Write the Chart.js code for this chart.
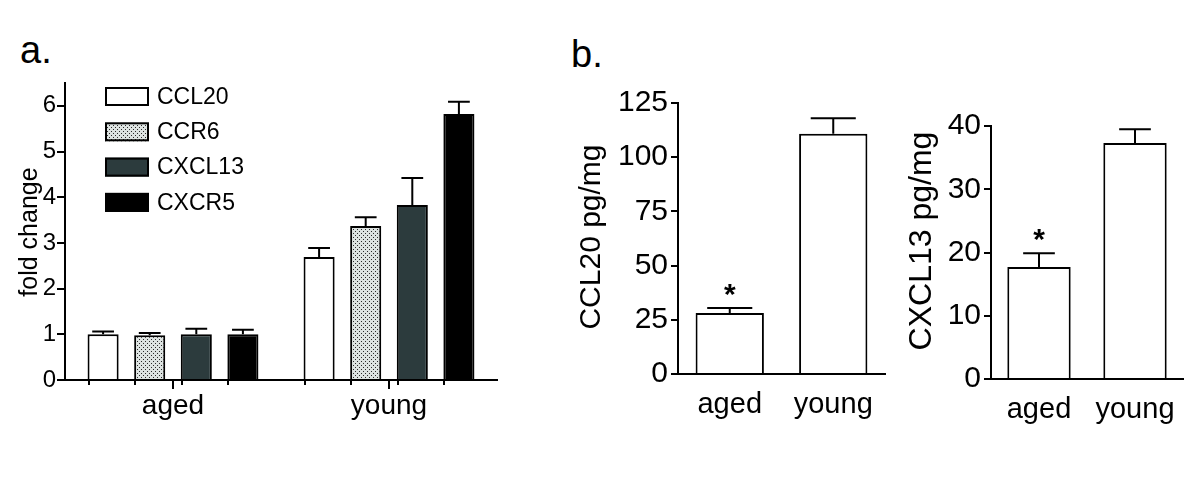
<!DOCTYPE html>
<html>
<head>
<meta charset="utf-8">
<script src="https://cdn.jsdelivr.net/npm/chart.js@4/dist/chart.umd.min.js"></script>
<style>
  html, body { margin: 0; padding: 0; background: #fff; }
  body { width: 1200px; height: 477px; position: relative; overflow: hidden; font-family: "Liberation Sans", Arial, sans-serif; }
  .box { position: absolute; }
  .panel-letter { position: absolute; font-size: 38px; line-height: 38px; color: #000; }
</style>
</head>
<body>
<div class="panel-letter" style="left:20px; top:31px;">a.</div>
<div class="panel-letter" style="left:571px; top:35px;">b.</div>
<div class="box" style="left:0; top:60px; width:520px; height:370px;"><canvas id="chartA"></canvas></div>
<div class="box" style="left:560px; top:60px; width:330px; height:370px;"><canvas id="chartB1"></canvas></div>
<div class="box" style="left:890px; top:60px; width:310px; height:370px;"><canvas id="chartB2"></canvas></div>
<script>
// dados
const groups = ['aged', 'young'];
const genes = ['CCL20', 'CCR6', 'CXCL13', 'CXCR5'];
const ccl20Fold = [1.0, 2.69];
const ccl20FoldErr = [0.06, 0.20];
const ccr6Fold = [0.98, 3.37];
const ccr6FoldErr = [0.05, 0.19];
const cxcl13Fold = [1.0, 3.83];
const cxcl13FoldErr = [0.12, 0.59];
const cxcr5Fold = [1.0, 5.82];
const cxcr5FoldErr = [0.10, 0.27];

const ccl20Protein = [28.1, 110.8];
const ccl20ProteinErr = [2.3, 7.2];
const cxcl13Protein = [17.7, 37.3];
const cxcl13ProteinErr = [2.2, 2.2];
const significance = ['*', ''];

const FONT = '"Liberation Sans", Arial, sans-serif';

// padrão pontilhado para CCR6
function dotPattern() {
    const c = document.createElement('canvas');
    c.width = 4; c.height = 4;
    const g = c.getContext('2d');
    g.fillStyle = '#dde3e1';
    g.fillRect(0, 0, 4, 4);
    g.fillStyle = '#2a2a2a';
    g.fillRect(1, 1, 1, 1);
    g.fillRect(3, 3, 1, 1);
    return g.createPattern(c, 'repeat');
}

const fills = ['#ffffff', dotPattern(), '#2c3b3d', '#000000'];

// barras de erro (só para cima), asteriscos, legenda e título do eixo y
const extras = {
    id: 'extras',
    afterDatasetsDraw(chart, args, opts) {
        const ctx = chart.ctx;
        const yScale = chart.scales.y;
        ctx.save();
        ctx.strokeStyle = '#000';
        ctx.lineWidth = 2;
        chart.data.datasets.forEach((ds, i) => {
            const meta = chart.getDatasetMeta(i);
            meta.data.forEach((bar, j) => {
                const top = yScale.getPixelForValue(ds.data[j] + ds.errors[j]);
                const half = bar.width * opts.cap / 2;
                ctx.beginPath();
                ctx.moveTo(bar.x, bar.y);
                ctx.lineTo(bar.x, top);
                ctx.moveTo(bar.x - half, top);
                ctx.lineTo(bar.x + half, top);
                ctx.stroke();
                if (opts.barTicks) {
                    const left = Math.round(bar.x - bar.width / 2) + 1;
                    ctx.beginPath();
                    ctx.moveTo(left, yScale.bottom);
                    ctx.lineTo(left, yScale.bottom + 5);
                    ctx.stroke();
                }
                if (ds.marks && ds.marks[j]) {
                    ctx.fillStyle = '#000';
                    ctx.font = opts.starFont;
                    ctx.textAlign = 'center';
                    ctx.textBaseline = 'alphabetic';
                    ctx.fillText(ds.marks[j], bar.x, top + opts.starOffset);
                }
            });
        });
        if (opts.legend) {
            const L = opts.legend;
            chart.data.datasets.forEach((ds, i) => {
                const y = L.y + i * L.step;
                ctx.fillStyle = ds.backgroundColor;
                ctx.fillRect(L.x, y, L.w, L.h);
                ctx.strokeRect(L.x + 1, y + 1, L.w - 2, L.h - 2);
                ctx.fillStyle = '#000';
                ctx.font = L.font;
                ctx.textAlign = 'left';
                ctx.textBaseline = 'middle';
                ctx.fillText(ds.label, L.x + L.w + 8, y + L.h / 2 + 1);
            });
        }
        if (opts.yTitle) {
            const T = opts.yTitle;
            ctx.translate(T.x, T.y);
            ctx.rotate(-Math.PI / 2);
            ctx.fillStyle = '#000';
            ctx.font = T.font;
            ctx.textAlign = 'center';
            ctx.textBaseline = 'middle';
            ctx.fillText(T.text, 0, 0);
        }
        ctx.restore();
    }
};

function fixedSize(w, h) {
    return function(scale) {
        if (w !== null) scale.width = w;
        if (h !== null) scale.height = h;
    };
}

// painel a
const foldValues = [ccl20Fold, ccr6Fold, cxcl13Fold, cxcr5Fold];
const foldErrors = [ccl20FoldErr, ccr6FoldErr, cxcl13FoldErr, cxcr5FoldErr];

new Chart(document.getElementById('chartA'), {
    type: 'bar',
    data: {
        labels: groups,
        datasets: genes.map((g, i) => ({
            label: g,
            data: foldValues[i],
            errors: foldErrors[i],
            backgroundColor: fills[i],
            borderColor: '#000',
            borderWidth: 2,
            borderSkipped: 'start',
            categoryPercentage: 0.863,
            barPercentage: 0.667
        }))
    },
    options: {
        responsive: true,
        maintainAspectRatio: false,
        animation: false,
        events: [],
        layout: { padding: { left: 0, right: 23, top: 23, bottom: 0 } },
        plugins: {
            legend: { display: false },
            tooltip: { enabled: false },
            extras: {
                cap: 0.7, barTicks: true,
                legend: { x: 105, y: 27, w: 44, h: 19, step: 35.3, font: '23px ' + FONT },
                yTitle: { text: 'fold change', x: 30, y: 172, font: '25px ' + FONT }
            }
        },
        scales: {
            x: {
                afterFit: fixedSize(null, 50),
                grid: { display: true, drawOnChartArea: false, offset: false, tickLength: 9, color: '#000', lineWidth: 2 },
                border: { display: true, color: '#000', width: 2 },
                ticks: { color: '#000', font: { family: FONT, size: 28 }, padding: 0 }
            },
            y: {
                min: 0, max: 6.5,
                afterFit: fixedSize(65, null),
                grid: { display: true, drawOnChartArea: false, tickLength: 8, color: '#000', lineWidth: 2 },
                border: { display: true, color: '#000', width: 2 },
                ticks: { stepSize: 1, includeBounds: false, color: '#000', font: { family: FONT, size: 24 }, padding: 1 }
            }
        }
    },
    plugins: [extras]
});

// painel b
function proteinChart(id, values, errors, label, max, step, yWidth, pad, xHeight, cap, title) {
    return new Chart(document.getElementById(id), {
        type: 'bar',
        data: {
            labels: groups,
            datasets: [{
                label: label,
                data: values,
                errors: errors,
                marks: significance,
                backgroundColor: '#ffffff',
                borderColor: '#000',
                borderWidth: 2,
                borderSkipped: 'start',
                categoryPercentage: 1,
                barPercentage: 0.66
            }]
        },
        options: {
            responsive: true,
            maintainAspectRatio: false,
            animation: false,
            events: [],
            layout: { padding: pad },
            plugins: {
                legend: { display: false },
                tooltip: { enabled: false },
                extras: { cap: cap, barTicks: false, starFont: 'bold 30px ' + FONT, starOffset: -4, yTitle: title }
            },
            scales: {
                x: {
                    afterFit: fixedSize(null, xHeight),
                    grid: { display: false },
                    border: { display: true, color: '#000', width: 2 },
                    ticks: { color: '#000', font: { family: FONT, size: 29 }, padding: 6 }
                },
                y: {
                    min: 0, max: max,
                    afterFit: fixedSize(yWidth, null),
                    grid: { display: true, drawOnChartArea: false, tickLength: 7, color: '#000', lineWidth: 2 },
                    border: { display: true, color: '#000', width: 2 },
                    ticks: { stepSize: step, color: '#000', font: { family: FONT, size: 30 }, padding: 3 }
                }
            }
        },
        plugins: [extras]
    });
}

proteinChart('chartB1', ccl20Protein, ccl20ProteinErr, 'CCL20 pg/mg', 125, 25, 118,
    { left: 0, right: 5, top: 43, bottom: 0 }, 56, 0.66,
    { text: 'CCL20 pg/mg', x: 32, y: 177, font: '30px ' + FONT });
proteinChart('chartB2', cxcl13Protein, cxcl13ProteinErr, 'CXCL13 pg/mg', 40, 10, 101,
    { left: 0, right: 17, top: 66, bottom: 0 }, 51, 0.5,
    { text: 'CXCL13 pg/mg', x: 32, y: 181, font: '32px ' + FONT });
</script>
</body>
</html>
